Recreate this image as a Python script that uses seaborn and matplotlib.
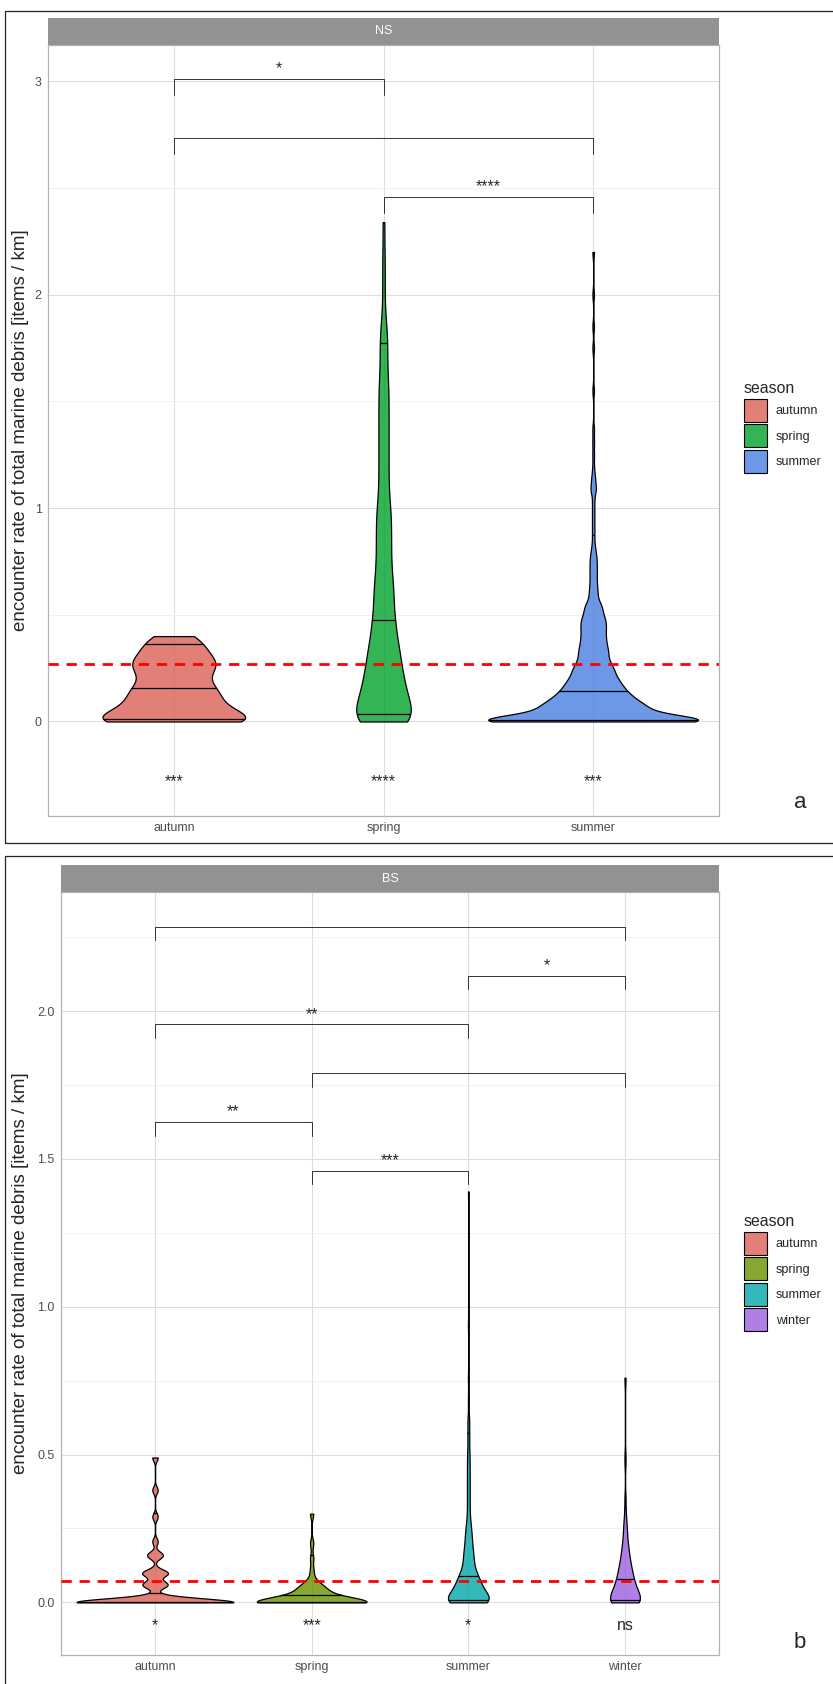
import numpy as np
import matplotlib.pyplot as plt
import seaborn as sns
from matplotlib.colors import to_rgba
from matplotlib.patches import Patch, Rectangle

sns.set_style("whitegrid")
plt.rcParams["font.family"] = ["Liberation Sans", "DejaVu Sans"]

# ---------------- panel a : NS ----------------
ns_seasons = ["autumn", "spring", "summer"]
ns_colors = ["#DB6056", "#00A12A", "#477EE2"]

# observed encounter rates, written as value / number of transects
ns_autumn_vals = [0, 0.005, 0.01, 0.015, 0.025, 0.04, 0.06, 0.08, 0.085, 0.095, 0.11,
                  0.13, 0.145, 0.155, 0.16, 0.185, 0.21, 0.235, 0.25, 0.265,
                  0.27, 0.28, 0.30, 0.32, 0.345, 0.36, 0.385, 0.40]
ns_autumn_counts = [6, 1, 1, 1, 1, 1, 1, 1, 1, 1, 1,
                    1, 1, 1, 1, 1, 1, 1, 1, 1,
                    1, 1, 1, 1, 1, 1, 1, 1]

ns_spring_vals = [0, 0.05, 0.10, 0.15, 0.20, 0.25, 0.30, 0.35, 0.40, 0.45,
                  0.50, 0.55, 0.60, 0.65, 0.70, 0.75, 0.80, 0.85, 0.90, 0.95,
                  1.00, 1.05, 1.10, 1.15, 1.20, 1.25, 1.30, 1.35, 1.40, 1.45,
                  1.50, 1.55, 1.60, 1.65, 1.70, 1.75, 1.80, 1.85, 1.90, 2.00,
                  2.10, 2.20, 2.34]
ns_spring_counts = [20, 10, 10, 9, 8, 7, 7, 6, 5, 5,
                    4, 4, 4, 4, 3, 3, 3, 3, 3, 3,
                    3, 2, 2, 2, 2, 2, 2, 2, 2, 2,
                    2, 2, 2, 1, 2, 1, 2, 1, 1, 1,
                    1, 1, 1]

ns_summer_vals = [0, 0.005, 0.01, 0.015, 0.02, 0.025, 0.03, 0.035, 0.04,
                  0.046, 0.051, 0.056, 0.061, 0.066, 0.071, 0.076, 0.081, 0.086,
                  0.092, 0.10, 0.107, 0.114, 0.121, 0.128, 0.136, 0.145, 0.155,
                  0.164, 0.174, 0.184, 0.194,
                  0.207, 0.22, 0.233, 0.247, 0.26, 0.276, 0.296, 0.315, 0.334,
                  0.353, 0.376, 0.398, 0.422, 0.445, 0.467, 0.49, 0.52, 0.552,
                  0.60, 0.64, 0.68, 0.72, 0.76, 0.80, 0.84, 0.88, 0.92, 0.96,
                  1.00, 1.04, 1.09, 1.14, 1.19, 1.25, 1.31, 1.37,
                  1.55, 1.75, 1.85, 2.0, 2.2]
ns_summer_counts = [96, 6, 6, 6, 6, 6, 6, 6, 6,
                    6, 6, 6, 6, 6, 6, 6, 6, 6,
                    6, 6, 6, 6, 6, 6, 6, 6, 6,
                    6, 6, 6, 6,
                    6, 6, 6, 6, 6, 6, 6, 6, 6,
                    6, 6, 6, 6, 6, 6, 6, 6, 6,
                    4, 3, 3, 3, 3, 2, 1, 1, 1, 1,
                    1, 1, 3, 2, 1, 1, 1, 1,
                    1, 1, 1, 1, 1]

ns_ref_line = 0.27
ns_pairs = [("autumn", "spring"), ("autumn", "summer"), ("spring", "summer")]
ns_pair_y = [3.01, 2.735, 2.46]
ns_pair_labels = ["*", "", "****"]
ns_group_labels = ["***", "****", "***"]

# ---------------- panel b : BS ----------------
bs_seasons = ["autumn", "spring", "summer", "winter"]
bs_colors = ["#DB6056", "#689200", "#01A6A9", "#9C5FDF"]

bs_autumn_vals = [0, 0.006, 0.012, 0.018, 0.055, 0.06, 0.065, 0.095, 0.10, 0.105,
                  0.158, 0.163, 0.206, 0.29, 0.38, 0.49]
bs_autumn_counts = [26, 2, 1, 2, 2, 1, 2, 2, 2, 1,
                    2, 1, 1, 1, 1, 1]

bs_spring_vals = [0, 0.01, 0.02, 0.03, 0.045, 0.06, 0.08, 0.11, 0.15, 0.20, 0.30]
bs_spring_counts = [30, 2, 3, 4, 4, 3, 1, 1, 1, 1, 1]

bs_summer_vals = [0, 0.005, 0.01, 0.015, 0.02, 0.026, 0.031, 0.037, 0.042, 0.048,
                  0.055, 0.063, 0.071, 0.078, 0.086, 0.094, 0.105, 0.117, 0.13,
                  0.143, 0.156, 0.169, 0.183, 0.202, 0.222, 0.241, 0.268, 0.303,
                  0.337, 0.371, 0.405, 0.439, 0.473, 0.511, 0.562, 0.613, 0.685,
                  0.76, 0.937, 1.39]
bs_summer_counts = [27, 4, 4, 4, 4, 4, 4, 4, 4, 4,
                    4, 4, 4, 4, 4, 4, 3, 3, 3,
                    3, 3, 3, 3, 3, 3, 3, 3, 2,
                    2, 2, 2, 2, 2, 2, 2, 2, 1,
                    1, 1, 1]

bs_winter_vals = [0, 0.003, 0.01, 0.017, 0.023, 0.03, 0.037, 0.045, 0.052, 0.06,
                  0.068, 0.076, 0.086, 0.097, 0.108, 0.119, 0.134, 0.151, 0.169,
                  0.193, 0.226, 0.271, 0.344, 0.485, 0.76]
bs_winter_counts = [14, 2, 2, 2, 2, 2, 2, 2, 2, 2,
                    2, 2, 2, 2, 2, 2, 2, 2, 2,
                    2, 2, 2, 1, 1, 1]

bs_ref_line = 0.073
bs_pairs = [("autumn", "winter"), ("summer", "winter"), ("autumn", "summer"),
            ("spring", "winter"), ("autumn", "spring"), ("spring", "summer")]
bs_pair_y = [2.285, 2.12, 1.955, 1.79, 1.625, 1.46]
bs_pair_labels = ["", "*", "**", "", "**", "***"]
bs_group_labels = ["*", "***", "*", "ns"]

ylab = "encounter rate of total marine debris [items / km]"

# kernel bandwidths and max widths of each violin
ns_bw = [0.045, 0.07, 0.025]
ns_width = [0.68, 0.26, 1.0]
bs_bw = [0.012, 0.016, 0.025, 0.03]
bs_width = [1.0, 0.70, 0.26, 0.19]

STAR_SIZE = 11.5


def draw_violins(ax, seasons, samples, colors, bws, widths):
    for i, (s, (vals, counts)) in enumerate(zip(seasons, samples)):
        obs = np.repeat(vals, counts)
        sns.violinplot(x=[s] * len(obs), y=obs, order=seasons, color=colors[i],
                       saturation=1, inner=None, cut=0, gridsize=800,
                       bw_method=bws[i] / np.std(obs, ddof=1),
                       density_norm="width", width=widths[i],
                       linewidth=0.9, linecolor="black", ax=ax)
        poly = ax.collections[-1]
        poly.set_facecolor(to_rgba(colors[i], 0.8))
        poly.set_zorder(3)
        # quantile lines (5 %, 50 %, 95 %) from the violin density, like geom_violin
        v = poly.get_paths()[0].vertices
        ys, inv = np.unique(v[:, 1], return_inverse=True)
        hw = np.zeros(len(ys))
        np.maximum.at(hw, inv.ravel(), np.abs(v[:, 0] - i))
        cum = np.concatenate([[0], np.cumsum(np.diff(ys) * (hw[1:] + hw[:-1]) / 2)])
        cum /= cum[-1]
        for q in (0.05, 0.5, 0.95):
            yq = np.interp(q, cum, ys)
            wq = np.interp(yq, ys, hw)
            ax.plot([i - wq, i + wq], [yq, yq], color="black", lw=0.9,
                    solid_capstyle="butt", zorder=4)


def style_axes(ax, seasons, ylim, yticks, yticklabels, minor):
    ax.set_xlim(-0.6, len(seasons) - 0.4)
    ax.set_ylim(*ylim)
    ax.set_xticks(range(len(seasons)), seasons)
    ax.set_yticks(yticks, yticklabels)
    ax.set_yticks(minor, minor=True)
    ax.set_axisbelow(True)
    ax.grid(True, which="major", color="#DEDEDE", lw=0.8)
    ax.grid(True, which="minor", axis="y", color="#EEEEEE", lw=0.6)
    ax.tick_params(which="major", length=2.5, width=0.8, color="#B3B3B3",
                   labelcolor="#4D4D4D", labelsize=9, pad=2)
    ax.tick_params(which="minor", length=0)
    for sp in ax.spines.values():
        sp.set_color("#B3B3B3")
        sp.set_linewidth(0.9)
    ax.set_xlabel("")
    ax.set_ylabel("")


def annotate(ax, seasons, ref, pairs, pair_y, pair_labels, tip, group_labels, lab_y):
    ax.axhline(ref, color="#FF0000", lw=2.0, ls=(0, (3.7, 2.8)), zorder=5)
    for (g1, g2), y, lab in zip(pairs, pair_y, pair_labels):
        x1, x2 = seasons.index(g1), seasons.index(g2)
        ax.plot([x1, x1, x2, x2], [y - tip, y, y, y - tip], color="#333333", lw=0.7)
        if lab:
            ax.annotate(lab, ((x1 + x2) / 2, y), xytext=(0, 4.1),
                        textcoords="offset points", ha="center", va="baseline",
                        fontsize=STAR_SIZE)
    for i, lab in enumerate(group_labels):
        ax.text(i, lab_y, lab, ha="center", va="baseline", fontsize=STAR_SIZE)


def add_strip(fig, rect, text):
    st = fig.add_axes(rect)
    st.set_facecolor("#929292")
    st.set_xticks([])
    st.set_yticks([])
    st.grid(False)
    for sp in st.spines.values():
        sp.set_visible(False)
    st.text(0.5, 0.5, text, color="white", ha="center", va="center", fontsize=9,
            transform=st.transAxes)


def add_legend(ax, fig, seasons, colors, anchor):
    handles = [Patch(facecolor=to_rgba(c, 0.8), edgecolor="black", linewidth=0.8, label=s)
               for s, c in zip(seasons, colors)]
    ax.legend(handles=handles, title="season", loc="upper left", bbox_to_anchor=anchor,
              bbox_transform=fig.transFigure, frameon=False, fontsize=9.1,
              title_fontsize=11.4, handlelength=1.82, handleheight=2.43,
              labelspacing=0.2, handletextpad=0.7, borderpad=0, borderaxespad=0,
              alignment="left")


W, H = 833, 1684
fig = plt.figure(figsize=(W / 100, H / 100), dpi=100)

# outer frames of the two plots
fig.patches.append(Rectangle((5 / W, 1 - 843 / H), 1.0, (843 - 11) / H,
                             transform=fig.transFigure, fill=False,
                             edgecolor="#222222", lw=0.9))
fig.patches.append(Rectangle((5 / W, -0.01), 1.0, 1 - 856 / H + 0.01,
                             transform=fig.transFigure, fill=False,
                             edgecolor="#222222", lw=0.9))

# ---- panel a ----
ax1 = fig.add_axes([48 / W, 1 - 816 / H, (719 - 48) / W, (816 - 45) / H])
draw_violins(ax1, ns_seasons,
             [(ns_autumn_vals, ns_autumn_counts), (ns_spring_vals, ns_spring_counts),
              (ns_summer_vals, ns_summer_counts)],
             ns_colors, ns_bw, ns_width)
style_axes(ax1, ns_seasons, (-0.443, 3.17), [0, 1, 2, 3], ["0", "1", "2", "3"],
           [0.5, 1.5, 2.5])
annotate(ax1, ns_seasons, ns_ref_line, ns_pairs, ns_pair_y, ns_pair_labels, 0.075,
         ns_group_labels, -0.303)
add_strip(fig, [48 / W, 1 - 45 / H, (719 - 48) / W, 27 / H], "NS")
add_legend(ax1, fig, ns_seasons, ns_colors, (744 / W, 1 - 381 / H))
fig.text(21 / W, 1 - 430.5 / H, ylab, rotation=90, ha="center", va="center", fontsize=13.5)
fig.text(800 / W, 1 - 803 / H, "a", ha="center", va="center", fontsize=16)

# ---- panel b ----
ax2 = fig.add_axes([61 / W, 1 - 1655 / H, (719 - 61) / W, (1655 - 892) / H])
draw_violins(ax2, bs_seasons,
             [(bs_autumn_vals, bs_autumn_counts), (bs_spring_vals, bs_spring_counts),
              (bs_summer_vals, bs_summer_counts), (bs_winter_vals, bs_winter_counts)],
             bs_colors, bs_bw, bs_width)
style_axes(ax2, bs_seasons, (-0.178, 2.403), [0, 0.5, 1.0, 1.5, 2.0],
           ["0.0", "0.5", "1.0", "1.5", "2.0"], [0.25, 0.75, 1.25, 1.75, 2.25])
annotate(ax2, bs_seasons, bs_ref_line, bs_pairs, bs_pair_y, bs_pair_labels, 0.046,
         bs_group_labels, -0.095)
add_strip(fig, [61 / W, 1 - 892 / H, (719 - 61) / W, 27 / H], "BS")
add_legend(ax2, fig, bs_seasons, bs_colors, (744 / W, 1 - 1214 / H))
fig.text(21 / W, 1 - 1273.5 / H, ylab, rotation=90, ha="center", va="center", fontsize=13.5)
fig.text(800 / W, 1 - 1642 / H, "b", ha="center", va="center", fontsize=16)

fig.savefig("out.png", dpi=100)
